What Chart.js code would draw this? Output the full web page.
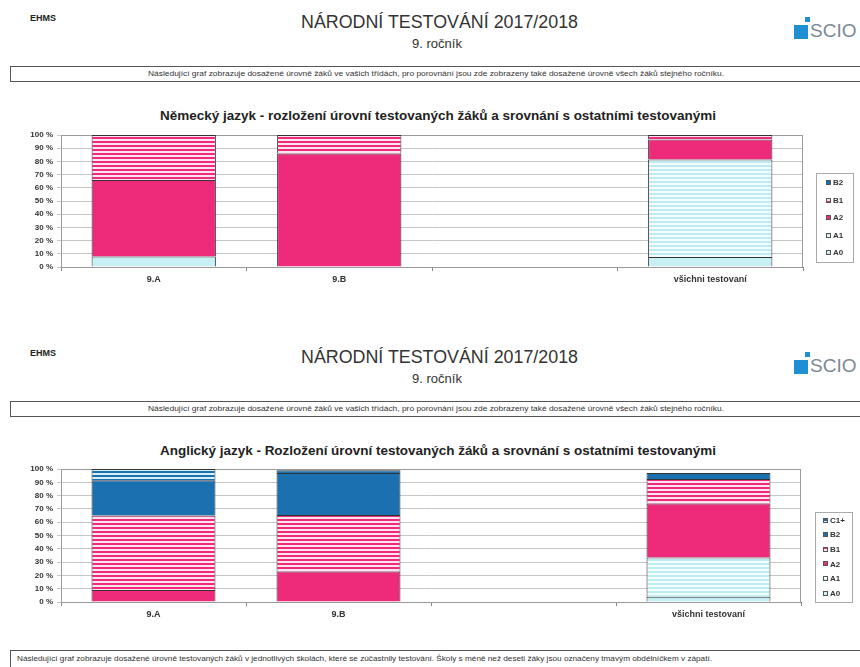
<!DOCTYPE html>
<html>
<head>
<meta charset="utf-8">
<script src="https://cdn.jsdelivr.net/npm/chart.js@4.4.1/dist/chart.umd.min.js"></script>
<style>
  body { margin: 0; width: 860px; height: 667px; overflow: hidden; background: #fff; position: relative;
         font-family: "Liberation Sans", Arial, sans-serif; color: #222; }
  .abs { position: absolute; white-space: nowrap; }
  .ehms { font-size: 9px; font-weight: bold; line-height: 10px; }
  .title { font-size: 18px; line-height: 20px; color: #333; }
  .sub { font-size: 12px; line-height: 14px; color: #333; }
  .box { position: absolute; left: 10px; width: 870px; border: 1px solid #555; box-sizing: border-box; }
  .note { font-size: 7px; line-height: 9px; color: #333; transform-origin: 0 50%; }
  .ctitle { font-size: 12px; font-weight: bold; line-height: 14px; color: #222; transform-origin: 0 50%; }
  .logo-big { position: absolute; width: 14px; height: 14px; background: #1d8fd2; }
  .logo-small { position: absolute; width: 5px; height: 5px; background: #1d8fd2; }
  .logo-text { font-size: 19px; line-height: 20px; color: #7a8a94; }
  canvas { position: absolute; left: 0; }
</style>
</head>
<body>
<canvas id="chartDe" width="860" height="170" style="top:125px"></canvas>
<canvas id="chartEn" width="860" height="170" style="top:459px"></canvas>
<script>
  // categories
  const categories = ['9.A', '9.B', '', 'všichni testovaní'];

  // Německý jazyk (percent per level)
  const levelsDe = ['A0', 'A1', 'A2', 'B1', 'B2'];
  const deA0 = [8, 0, null, 7.5];
  const deA1 = [0, 0, null, 74];
  const deA2 = [58, 86, null, 15];
  const deB1 = [34, 14, null, 3.5];
  const deB2 = [0, 0, null, 0];

  // Anglický jazyk (percent per level)
  const levelsEn = ['A0', 'A1', 'A2', 'B1', 'B2', 'C1+'];
  const enA0 = [0, 0, null, 4];
  const enA1 = [0, 0, null, 29.5];
  const enA2 = [9, 23, null, 40.5];
  const enB1 = [56, 42.5, null, 18.5];
  const enB2 = [26.5, 31.5, null, 4.5];
  const enC1 = [8.5, 2, null, 0];

  const yMax = 100;
  const yStep = 10;

  const noteTop = 'Následující graf zobrazuje dosažené úrovně žáků ve vašich třídách, pro porovnání jsou zde zobrazeny také dosažené úrovně všech žáků stejného ročníku.';
  const noteBottom = 'Následující graf zobrazuje dosažené úrovně testovaných žáků v jednotlivých školách, které se zúčastnily testování. Školy s méně než deseti žáky jsou označeny tmavým obdélníčkem v zápatí.';
  const titleDe = 'Německý jazyk - rozložení úrovní testovaných žáků a srovnání s ostatními testovanými';
  const titleEn = 'Anglický jazyk - Rozložení úrovní testovaných žáků a srovnání s ostatními testovanými';

  function add(html, cls, style) {
    const el = document.createElement('div');
    el.className = 'abs ' + cls;
    el.setAttribute('style', style);
    el.innerHTML = html;
    document.body.appendChild(el);
    return el;
  }

  // stretch/shrink a text line so it covers [left, left+width]
  function fit(el, left, width) {
    el.style.left = left + 'px';
    const w = el.getBoundingClientRect().width;
    el.style.transform = 'scaleX(' + (width / w) + ')';
  }

  function header(dy, chartTitle) {
    add('EHMS', 'ehms', 'left:30px;top:' + (13 + dy) + 'px');
    const t = add('NÁRODNÍ TESTOVÁNÍ 2017/2018', 'title', 'top:' + (12 + dy) + 'px');
    t.style.transformOrigin = '0 50%';
    fit(t, 301, 277);
    const s = add('9. ročník', 'sub', 'top:' + (37 + dy) + 'px');
    s.style.transformOrigin = '0 50%';
    fit(s, 412, 50);
    const logo = document.createElement('div');
    logo.className = 'abs';
    logo.style.cssText = 'left:794px;top:' + (16 + dy) + 'px;width:60px;height:26px';
    logo.innerHTML = '<div class="logo-big" style="left:0;top:9px"></div>' +
      '<div class="logo-small" style="left:11px;top:1px"></div>' +
      '<div class="abs logo-text" style="left:16px;top:5px">SCIO</div>';
    document.body.appendChild(logo);
    const box = document.createElement('div');
    box.className = 'box';
    box.style.cssText = 'top:' + (66 + dy) + 'px;height:16px';
    document.body.appendChild(box);
    fit(add(noteTop, 'note', 'top:' + (69 + dy) + 'px'), 148, 576);
    fit(add(chartTitle, 'ctitle', 'top:' + (109 + dy) + 'px'), 160, 556);
  }

  header(0, titleDe);
  header(335, titleEn);
  const bbox = document.createElement('div');
  bbox.className = 'box';
  bbox.style.cssText = 'top:650px;height:30px';
  document.body.appendChild(bbox);
  fit(add(noteBottom, 'note', 'top:654px'), 17, 695);

  // fills
  const PINK = '#ee2a7b';
  const BLUE = '#1b70b0';
  const CYAN = '#c6f0f4';

  function stripes(bg, line, period, lineH) {
    const c = document.createElement('canvas');
    c.width = 4; c.height = period;
    const x = c.getContext('2d');
    x.fillStyle = bg; x.fillRect(0, 0, 4, period);
    x.fillStyle = line; x.fillRect(0, 0, 4, lineH);
    return x.createPattern(c, 'repeat');
  }

  const fills = {
    'A0': CYAN,
    'A1': stripes('#f3fcfd', '#bdebf0', 4, 2),
    'A2': PINK,
    'B1': stripes('#fbe4ee', PINK, 4, 2),
    'B2': BLUE,
    'C1+': stripes('#d6eef8', BLUE, 4, 2)
  };

  function makeDatasets(levels, values) {
    return levels.map((lv, i) => ({
      label: lv,
      // empty levels are left out instead of drawn as zero-height bars
      data: values[i].map(v => (v ? v : null)),
      backgroundColor: fills[lv],
      borderColor: '#333',
      borderWidth: { top: 1, left: 1, right: 1, bottom: 0 },
      borderSkipped: false
    }));
  }

  const framePlugin = {
    id: 'frame',
    beforeDatasetsDraw(chart) {
      const { ctx, chartArea: a } = chart;
      ctx.save();
      ctx.strokeStyle = '#9a9a9a';
      ctx.lineWidth = 1;
      ctx.strokeRect(a.left + 0.5, a.top + 0.5, a.right - a.left - 1, a.bottom - a.top);
      ctx.restore();
    }
  };

  const legendBoxPlugin = {
    id: 'legendBox',
    afterDraw(chart, args, opts) {
      const { ctx } = chart;
      const sets = chart.data.datasets.slice().reverse();
      ctx.save();
      ctx.strokeStyle = '#aaa';
      ctx.lineWidth = 1;
      ctx.strokeRect(opts.x + 0.5, opts.y + 0.5, opts.w, opts.h);
      ctx.font = 'bold 8px "Liberation Sans", Arial, sans-serif';
      ctx.textBaseline = 'middle';
      let maxW = 0;
      sets.forEach(ds => { maxW = Math.max(maxW, ctx.measureText(ds.label).width); });
      const left = Math.round(opts.x + (opts.w - (maxW + 7)) / 2);
      sets.forEach((ds, i) => {
        const cy = opts.first + i * opts.step;
        ctx.fillStyle = ds.backgroundColor;
        ctx.fillRect(left, Math.round(cy - 2.5), 5, 5);
        ctx.strokeStyle = '#555';
        ctx.strokeRect(left + 0.5, Math.round(cy - 2.5) + 0.5, 4, 4);
        ctx.fillStyle = '#333';
        ctx.fillText(ds.label, left + 7, cy + 0.5);
      });
      ctx.restore();
    }
  };

  function makeChart(id, datasets, padRight, xHeight, legend) {
    return new Chart(document.getElementById(id), {
      type: 'bar',
      data: { labels: categories, datasets },
      plugins: [framePlugin, legendBoxPlugin],
      options: {
        responsive: false,
        animation: false,
        devicePixelRatio: 1,
        layout: { padding: { top: 10, right: padRight, left: 0, bottom: 0 } },
        datasets: { bar: { categoryPercentage: 0.67, barPercentage: 1 } },
        scales: {
          x: {
            stacked: true,
            afterFit: s => { s.height = xHeight; },
            grid: { drawOnChartArea: false, drawTicks: true, tickLength: 4, color: '#888' },
            border: { color: '#666' },
            ticks: {
              color: '#333', padding: 3, maxRotation: 0, autoSkip: false,
              font: { family: '"Liberation Sans", Arial, sans-serif', size: 9, weight: 'bold' }
            }
          },
          y: {
            stacked: true,
            min: 0,
            max: yMax,
            afterFit: s => { s.width = 61; },
            grid: { color: '#c6c6c6', tickLength: 4 },
            border: { color: '#999' },
            ticks: {
              stepSize: yStep, color: '#333', padding: 4,
              callback: v => v + ' %',
              font: { family: '"Liberation Sans", Arial, sans-serif', size: 8, weight: 'bold' }
            }
          }
        },
        plugins: {
          legend: { display: false },
          tooltip: { enabled: false },
          legendBox: legend
        }
      }
    });
  }

  makeChart('chartDe', makeDatasets(levelsDe, [deA0, deA1, deA2, deB1, deB2]), 57, 28,
    { x: 816, y: 48, w: 37, h: 89, first: 57.7, step: 17.5 });
  makeChart('chartEn', makeDatasets(levelsEn, [enA0, enA1, enA2, enB1, enB2, enC1]), 59, 27,
    { x: 815, y: 53, w: 37, h: 90, first: 61, step: 14.6 });
</script>
</body>
</html>
